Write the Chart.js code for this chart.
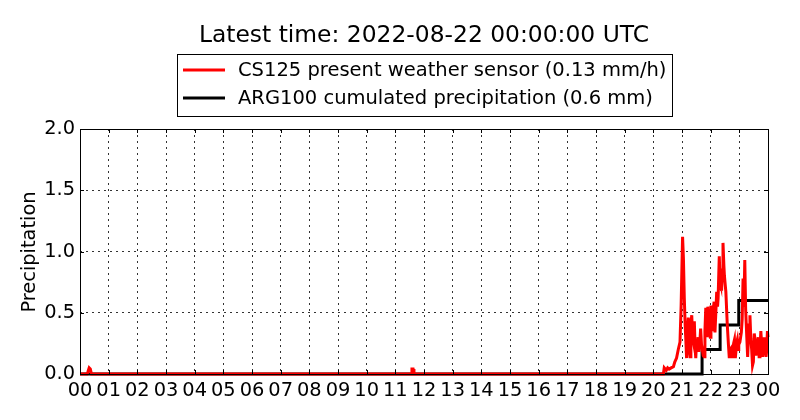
<!DOCTYPE html>
<html>
<head>
<meta charset="utf-8">
<script src="https://cdn.jsdelivr.net/npm/chart.js@4.4.1/dist/chart.umd.min.js"></script>
<style>
html,body{margin:0;padding:0;background:#fff;}
canvas{display:block;}
</style>
</head>
<body>
<canvas id="c" width="800" height="420"></canvas>
<script>
// ---- data ----
const titleText = "Latest time: 2022-08-22 00:00:00 UTC";
const yAxisLabel = "Precipitation";
const seriesLabels = ["CS125 present weather sensor (0.13 mm/h)", "ARG100 cumulated precipitation (0.6 mm)"];
const xTickLabels = ["00","01","02","03","04","05","06","07","08","09","10","11","12","13","14","15","16","17","18","19","20","21","22","23","00"];
const yTickValues = [0.0, 0.5, 1.0, 1.5, 2.0];

// CS125 intensity (hours since 00 UTC, mm/h)
const redHours = [0, 0.25, 0.28, 0.32, 0.36, 0.40,
  11.55, 11.58, 11.62, 11.65,
  20.35, 20.38, 20.45, 20.50, 20.55, 20.62, 20.70, 20.75, 20.81, 20.87, 20.93, 20.97, 21.02, 21.05, 21.08, 21.11, 21.13, 21.16, 21.19, 21.22, 21.25, 21.28, 21.31, 21.34, 21.37, 21.40, 21.43, 21.46, 21.48, 21.51, 21.53, 21.56, 21.59, 21.62, 21.65, 21.68, 21.71, 21.74, 21.77, 21.80, 21.83, 21.86, 21.88, 21.90, 21.92, 21.95, 21.98, 22.01, 22.04, 22.07, 22.10, 22.12, 22.15, 22.18, 22.21, 22.24, 22.26, 22.30, 22.33, 22.35, 22.38, 22.41, 22.43, 22.46, 22.48, 22.53, 22.58, 22.62, 22.65, 22.68, 22.71, 22.74, 22.77, 22.80, 22.83, 22.86, 22.88, 22.91, 22.93, 22.96, 22.98, 23.02, 23.07, 23.10, 23.13, 23.16, 23.19, 23.22, 23.26, 23.29, 23.31, 23.34, 23.37, 23.40, 23.43, 23.46, 23.49, 23.52, 23.55, 23.58, 23.60, 23.63, 23.66, 23.69, 23.72, 23.75, 23.78, 23.81, 23.84, 23.87, 23.90, 23.93, 23.95, 23.98, 24.0];
const redValues = [0, 0, 0.02, 0.05, 0.04, 0,
  0, 0.04, 0.04, 0,
  0, 0.05, 0.03, 0.05, 0.04, 0.05, 0.06, 0.10, 0.13, 0.20, 0.26, 0.56, 1.12, 0.94, 0.62, 0.40, 0.30, 0.13, 0.35, 0.46, 0.20, 0.14, 0.40, 0.48, 0.30, 0.26, 0.43, 0.20, 0.13, 0.28, 0.22, 0.30, 0.18, 0.25, 0.37, 0.24, 0.20, 0.15, 0.14, 0.35, 0.54, 0.30, 0.40, 0.55, 0.45, 0.32, 0.30, 0.56, 0.45, 0.35, 0.55, 0.59, 0.34, 0.50, 0.67, 0.55, 0.62, 0.96, 0.75, 0.73, 0.68, 0.85, 1.07, 0.89, 0.80, 0.67, 0.40, 0.24, 0.13, 0.20, 0.21, 0.14, 0.14, 0.25, 0.28, 0.13, 0.13, 0.26, 0.28, 0.20, 0.24, 0.26, 0.34, 0.45, 0.78, 0.55, 0.93, 0.53, 0.30, 0.14, 0.25, 0.40, 0.48, 0.29, 0.20, 0.07, 0.10, 0.33, 0.28, 0.15, 0.20, 0.24, 0.30, 0.14, 0.20, 0.35, 0.24, 0.14, 0.20, 0.30, 0.21, 0.14, 0.18, 0.35, 0.30, 0.18, 0.15];

// ARG100 cumulated precipitation (hours, mm), step function
const blackHours = [0, 21.70, 22.33, 22.98, 24.0];
const blackValues = [0, 0.2, 0.4, 0.6, 0.6];

const toXY = (xs, ys) => xs.map((x, i) => ({x: x, y: ys[i]}));

const FONT = "'DejaVu Sans', sans-serif";
const TICK_SIZE = 19.4;

const decorPlugin = {
  id: 'decor',
  afterDatasetsDraw(chart) {
    const ctx = chart.ctx;
    const a = chart.chartArea;
    const xs = chart.scales.x, ys = chart.scales.y;
    ctx.save();
    ctx.strokeStyle = '#000';
    ctx.lineWidth = 1;
    ctx.setLineDash([]);
    ctx.strokeRect(Math.round(a.left) + 0.5, Math.round(a.top) + 0.5, Math.round(a.right - a.left), Math.round(a.bottom - a.top));
    const tl = 4;
    ctx.beginPath();
    for (let i = 0; i < xTickLabels.length; i++) {
      const px = Math.round(xs.getPixelForValue(i)) + 0.5;
      ctx.moveTo(px, a.bottom); ctx.lineTo(px, a.bottom - tl);
      ctx.moveTo(px, a.top); ctx.lineTo(px, a.top + tl);
    }
    yTickValues.forEach(v => {
      const py = Math.round(ys.getPixelForValue(v)) + 0.5;
      ctx.moveTo(a.left, py); ctx.lineTo(a.left + tl, py);
      ctx.moveTo(a.right, py); ctx.lineTo(a.right - tl, py);
    });
    ctx.stroke();
    ctx.restore();
  },
  afterDraw(chart) {
    const ctx = chart.ctx;
    ctx.save();
    ctx.fillStyle = '#000';
    ctx.font = "23.4px " + FONT;
    ctx.textAlign = 'center';
    ctx.textBaseline = 'middle';
    ctx.fillText(titleText, 424, 36);
    ctx.save();
    ctx.translate(30, 252);
    ctx.rotate(-Math.PI / 2);
    ctx.font = "19.4px " + FONT;
    ctx.fillText(yAxisLabel, 0, 0);
    ctx.restore();
    ctx.strokeStyle = '#000';
    ctx.lineWidth = 1;
    ctx.strokeRect(177.5, 54.5, 495, 62);
    const rows = [70, 98];
    ctx.font = "19.5px " + FONT;
    ctx.textAlign = 'left';
    chart.data.datasets.forEach((d, i) => {
      ctx.strokeStyle = d.borderColor;
      ctx.lineWidth = 3;
      ctx.beginPath();
      ctx.moveTo(183, rows[i]); ctx.lineTo(225, rows[i]);
      ctx.stroke();
      ctx.fillStyle = '#000';
      ctx.fillText(d.label, 238, rows[i] + 1);
    });
    ctx.restore();
  }
};

new Chart(document.getElementById('c'), {
  type: 'line',
  data: {
    datasets: [
      {
        label: seriesLabels[0],
        data: toXY(redHours, redValues),
        borderColor: '#ff0000',
        borderWidth: 3,
        pointRadius: 0,
        tension: 0,
        fill: false,
        clip: false
      },
      {
        label: seriesLabels[1],
        data: toXY(blackHours, blackValues),
        borderColor: '#000000',
        borderWidth: 3,
        pointRadius: 0,
        stepped: 'before',
        fill: false,
        clip: false
      }
    ]
  },
  options: {
    responsive: false,
    animation: false,
    devicePixelRatio: 1,
    layout: {padding: {top: 129, right: 32, left: 0, bottom: 0}},
    plugins: {
      legend: {display: false},
      title: {display: false},
      tooltip: {enabled: false}
    },
    scales: {
      x: {
        type: 'linear',
        min: 0, max: 24,
        afterFit(s) { s.height = 46; },
        afterBuildTicks(s) { s.ticks = xTickLabels.map((l, i) => ({value: i})); },
        ticks: {
          autoSkip: false,
          maxRotation: 0,
          padding: 5,
          color: '#000',
          font: {family: FONT, size: TICK_SIZE},
          callback: (v, i) => xTickLabels[i]
        },
        grid: {color: '#333', lineWidth: 1, drawTicks: false},
        border: {display: false, dash: [2, 4]}
      },
      y: {
        type: 'linear',
        min: 0, max: 2,
        afterFit(s) { s.width = 80; },
        afterBuildTicks(s) { s.ticks = yTickValues.map(v => ({value: v})); },
        ticks: {
          padding: 5,
          color: '#000',
          font: {family: FONT, size: TICK_SIZE},
          callback: v => v.toFixed(1)
        },
        grid: {color: '#333', lineWidth: 1, drawTicks: false},
        border: {display: false, dash: [2, 4]}
      }
    }
  },
  plugins: [decorPlugin]
});
</script>
</body>
</html>
